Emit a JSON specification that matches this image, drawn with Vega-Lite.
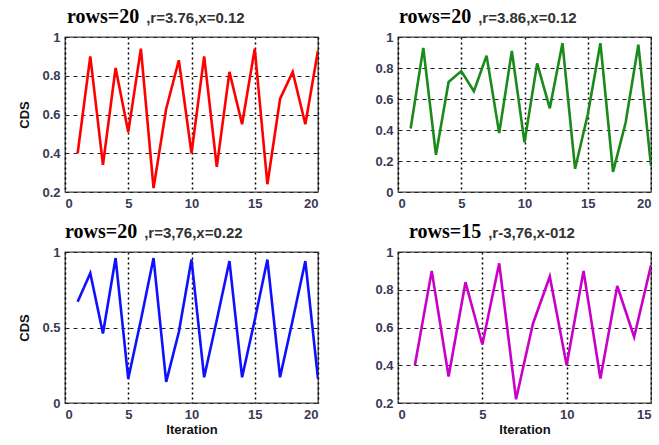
{
  "$schema": "https://vega.github.io/schema/vega-lite/v6.json",
  "padding": {"left": 18, "top": 6, "right": 0, "bottom": 0},
  "background": "white",
  "config": {
    "view": {"stroke": "#444444", "strokeWidth": 1.3},
    "axis": {
      "domain": false,
      "ticks": false,
      "labelFont": "Liberation Sans",
      "labelFontSize": 13,
      "labelFontWeight": "bold",
      "labelColor": "#3a3a55",
      "labelPadding": 5,
      "titleFont": "Liberation Sans",
      "titleFontSize": 13,
      "titleFontWeight": "bold",
      "titleColor": "#111111",
      "format": "~g"
    },
    "axisX": {"gridDash": [2, 3], "gridColor": "#000000", "gridWidth": 1.5, "gridOpacity": 1, "titlePadding": 2},
    "axisY": {"gridDash": [4, 4], "gridColor": "#222222", "gridWidth": 1.2, "gridOpacity": 1, "titlePadding": 10},
    "title": {
      "font": "Liberation Serif",
      "fontSize": 20,
      "fontWeight": "bold",
      "color": "#000000",
      "anchor": "start",
      "frame": "group",
      "offset": 0,
      "subtitleFont": "Liberation Sans",
      "subtitleFontSize": 15,
      "subtitleFontWeight": "bold",
      "subtitleColor": "#333333",
      "subtitlePadding": -16
    }
  },
  "spacing": 10,
  "vconcat": [
    {
      "spacing": 55,
      "hconcat": [
        {
          "width": 253,
          "height": 155,
          "title": {"text": "rows=20", "subtitle": "\u200b\u00a0\u00a0\u00a0\u00a0\u00a0\u00a0\u00a0\u00a0\u00a0\u00a0\u00a0\u00a0\u00a0\u00a0\u00a0\u00a0\u00a0\u00a0\u00a0,r=3.76,x=0.12", "dx": 2},
          "data": {"values": [
            {"iteration": 1, "cds": 0.40}, {"iteration": 2, "cds": 0.90}, {"iteration": 3, "cds": 0.34},
            {"iteration": 4, "cds": 0.84}, {"iteration": 5, "cds": 0.51}, {"iteration": 6, "cds": 0.94},
            {"iteration": 7, "cds": 0.22}, {"iteration": 8, "cds": 0.63}, {"iteration": 9, "cds": 0.88},
            {"iteration": 10, "cds": 0.40}, {"iteration": 11, "cds": 0.90}, {"iteration": 12, "cds": 0.33},
            {"iteration": 13, "cds": 0.82}, {"iteration": 14, "cds": 0.55}, {"iteration": 15, "cds": 0.94},
            {"iteration": 16, "cds": 0.24}, {"iteration": 17, "cds": 0.68}, {"iteration": 18, "cds": 0.82},
            {"iteration": 19, "cds": 0.55}, {"iteration": 20, "cds": 0.93}
          ]},
          "mark": {"type": "line", "color": "#ff0000", "strokeWidth": 2.6, "clip": true},
          "encoding": {
            "x": {"field": "iteration", "type": "quantitative", "scale": {"domain": [0, 20], "nice": false}, "axis": {"values": [0, 5, 10, 15, 20], "title": null}},
            "y": {"field": "cds", "type": "quantitative", "scale": {"domain": [0.2, 1], "nice": false, "zero": false}, "axis": {"values": [0.2, 0.4, 0.6, 0.8, 1], "title": "CDS"}}
          }
        },
        {
          "width": 253,
          "height": 155,
          "title": {"text": "rows=20", "subtitle": "\u200b\u00a0\u00a0\u00a0\u00a0\u00a0\u00a0\u00a0\u00a0\u00a0\u00a0\u00a0\u00a0\u00a0\u00a0\u00a0\u00a0\u00a0\u00a0\u00a0,r=3.86,x=0.12", "dx": 1},
          "data": {"values": [
            {"iteration": 1, "cds": 0.41}, {"iteration": 2, "cds": 0.93}, {"iteration": 3, "cds": 0.24},
            {"iteration": 4, "cds": 0.71}, {"iteration": 5, "cds": 0.78}, {"iteration": 6, "cds": 0.65},
            {"iteration": 7, "cds": 0.88}, {"iteration": 8, "cds": 0.38}, {"iteration": 9, "cds": 0.91},
            {"iteration": 10, "cds": 0.32}, {"iteration": 11, "cds": 0.83}, {"iteration": 12, "cds": 0.54},
            {"iteration": 13, "cds": 0.96}, {"iteration": 14, "cds": 0.15}, {"iteration": 15, "cds": 0.50},
            {"iteration": 16, "cds": 0.96}, {"iteration": 17, "cds": 0.13}, {"iteration": 18, "cds": 0.45},
            {"iteration": 19, "cds": 0.95}, {"iteration": 20, "cds": 0.17}
          ]},
          "mark": {"type": "line", "color": "#1a8a1a", "strokeWidth": 2.6, "clip": true},
          "encoding": {
            "x": {"field": "iteration", "type": "quantitative", "scale": {"domain": [0, 20], "nice": false}, "axis": {"values": [0, 5, 10, 15, 20], "title": null}},
            "y": {"field": "cds", "type": "quantitative", "scale": {"domain": [0, 1], "nice": false}, "axis": {"values": [0, 0.2, 0.4, 0.6, 0.8, 1], "title": null}}
          }
        }
      ]
    },
    {
      "spacing": 55,
      "hconcat": [
        {
          "width": 253,
          "height": 151,
          "title": {"text": "rows=20", "subtitle": "\u200b\u00a0\u00a0\u00a0\u00a0\u00a0\u00a0\u00a0\u00a0\u00a0\u00a0\u00a0\u00a0\u00a0\u00a0\u00a0\u00a0\u00a0\u00a0\u00a0,r=3,76,x=0.22", "dx": 0},
          "data": {"values": [
            {"iteration": 1, "cds": 0.67}, {"iteration": 2, "cds": 0.86}, {"iteration": 3, "cds": 0.46},
            {"iteration": 4, "cds": 0.96}, {"iteration": 5, "cds": 0.16}, {"iteration": 6, "cds": 0.55},
            {"iteration": 7, "cds": 0.96}, {"iteration": 8, "cds": 0.14}, {"iteration": 9, "cds": 0.47},
            {"iteration": 10, "cds": 0.95}, {"iteration": 11, "cds": 0.17}, {"iteration": 12, "cds": 0.55},
            {"iteration": 13, "cds": 0.94}, {"iteration": 14, "cds": 0.17}, {"iteration": 15, "cds": 0.55},
            {"iteration": 16, "cds": 0.95}, {"iteration": 17, "cds": 0.17}, {"iteration": 18, "cds": 0.55},
            {"iteration": 19, "cds": 0.94}, {"iteration": 20, "cds": 0.16}
          ]},
          "mark": {"type": "line", "color": "#1010ff", "strokeWidth": 2.6, "clip": true},
          "encoding": {
            "x": {"field": "iteration", "type": "quantitative", "scale": {"domain": [0, 20], "nice": false}, "axis": {"values": [0, 5, 10, 15, 20], "title": "Iteration"}},
            "y": {"field": "cds", "type": "quantitative", "scale": {"domain": [0, 1], "nice": false}, "axis": {"values": [0, 0.5, 1], "title": "CDS"}}
          }
        },
        {
          "width": 253,
          "height": 151,
          "title": {"text": "rows=15", "subtitle": "\u200b\u00a0\u00a0\u00a0\u00a0\u00a0\u00a0\u00a0\u00a0\u00a0\u00a0\u00a0\u00a0\u00a0\u00a0\u00a0\u00a0\u00a0\u00a0\u00a0,r-3,76,x-012", "dx": 11},
          "data": {"values": [
            {"iteration": 1, "cds": 0.40}, {"iteration": 2, "cds": 0.90}, {"iteration": 3, "cds": 0.34},
            {"iteration": 4, "cds": 0.84}, {"iteration": 5, "cds": 0.51}, {"iteration": 6, "cds": 0.94},
            {"iteration": 7, "cds": 0.22}, {"iteration": 8, "cds": 0.62}, {"iteration": 9, "cds": 0.87},
            {"iteration": 10, "cds": 0.40}, {"iteration": 11, "cds": 0.90}, {"iteration": 12, "cds": 0.33},
            {"iteration": 13, "cds": 0.82}, {"iteration": 14, "cds": 0.55}, {"iteration": 15, "cds": 0.93}
          ]},
          "mark": {"type": "line", "color": "#c800c8", "strokeWidth": 2.6, "clip": true},
          "encoding": {
            "x": {"field": "iteration", "type": "quantitative", "scale": {"domain": [0, 15], "nice": false}, "axis": {"values": [0, 5, 10, 15], "title": "Iteration"}},
            "y": {"field": "cds", "type": "quantitative", "scale": {"domain": [0.2, 1], "nice": false, "zero": false}, "axis": {"values": [0.2, 0.4, 0.6, 0.8, 1], "title": null}}
          }
        }
      ]
    }
  ]
}
